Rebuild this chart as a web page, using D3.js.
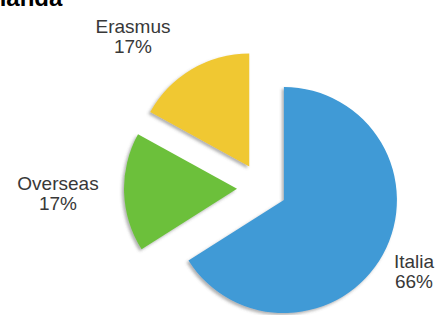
<!DOCTYPE html>
<html>
<head>
<meta charset="utf-8">
<script src="https://cdn.jsdelivr.net/npm/d3@7"></script>
<style>
  body { margin: 0; background: #fff; }
  svg { display: block; }
</style>
</head>
<body>
<div id="pie_chart"></div>
<script>
const labels = ['Italia', 'Overseas', 'Erasmus'];
const values = [66, 17, 17];
const colors = ['#3f9ad6', '#6cc03a', '#f0c832'];
const title = 'Olanda';

const width = 438, height = 315;
const cx = 262, cy = 188, radius = 113, explode = 25;

const svg = d3.select('#pie_chart')
  .append('svg')
  .attr('width', width)
  .attr('height', height);

// soft shadow down-left, like the original
const defs = svg.append('defs');
const filter = defs.append('filter')
  .attr('id', 'slice_shadow')
  .attr('x', '-20%').attr('y', '-20%')
  .attr('width', '140%').attr('height', '140%');
filter.append('feDropShadow')
  .attr('dx', -2).attr('dy', 2)
  .attr('stdDeviation', 1.5)
  .attr('flood-color', '#555')
  .attr('flood-opacity', 0.45);

// title, cut by the top edge
svg.append('text')
  .attr('x', -19)
  .attr('y', 6)
  .attr('font-family', 'Liberation Sans, Arial, sans-serif')
  .attr('font-weight', 'bold')
  .attr('font-size', 24)
  .attr('fill', '#000')
  .text(title);

const data = labels.map((l, i) => ({ label: l, value: values[i], color: colors[i] }));

const pie = d3.pie()
  .value(d => d.value)
  .sort(null);

const arc = d3.arc()
  .innerRadius(0)
  .outerRadius(radius);

const arcs = pie(data);

const g = svg.append('g')
  .attr('transform', 'translate(' + cx + ',' + cy + ')');

g.selectAll('path.slice')
  .data(arcs)
  .enter()
  .append('path')
  .attr('class', 'slice')
  .attr('d', arc)
  .attr('fill', d => d.data.color)
  .attr('filter', 'url(#slice_shadow)')
  .attr('transform', d => {
    const a = (d.startAngle + d.endAngle) / 2;
    return 'translate(' + (Math.sin(a) * explode) + ',' + (-Math.cos(a) * explode) + ')';
  });

// label positions picked by eye from the reference
const labelPos = {
  Italia: [414, 268],
  Overseas: [58, 190],
  Erasmus: [133, 33]
};

const lbl = svg.selectAll('text.lbl')
  .data(arcs)
  .enter()
  .append('text')
  .attr('class', 'lbl')
  .attr('text-anchor', 'middle')
  .attr('font-family', 'Liberation Sans, Arial, sans-serif')
  .attr('font-size', 19)
  .attr('fill', '#383838')
  .attr('transform', d => 'translate(' + labelPos[d.data.label] + ')');

lbl.append('tspan')
  .attr('x', 0).attr('y', 0)
  .text(d => d.data.label);

lbl.append('tspan')
  .attr('x', 0).attr('dy', 20)
  .text(d => d.data.value + '%');
</script>
</body>
</html>
